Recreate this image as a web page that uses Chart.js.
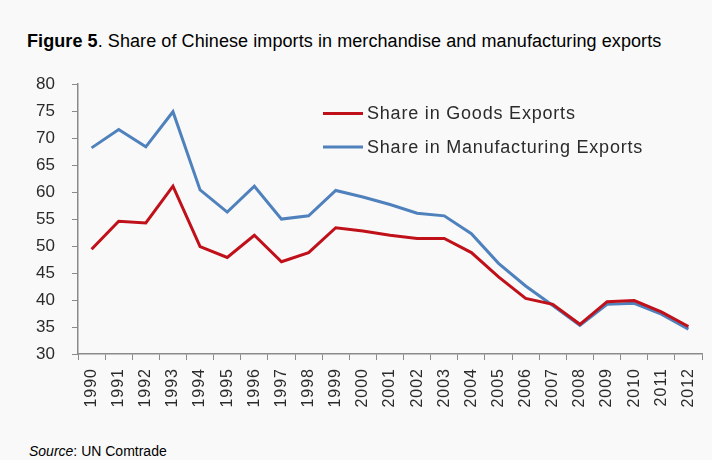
<!DOCTYPE html>
<html>
<head>
<meta charset="utf-8">
<script src="https://cdn.jsdelivr.net/npm/chart.js@4.4.1/dist/chart.umd.min.js"></script>
<style>
  body { margin: 0; background: #f9f9f9; font-family: "Liberation Sans", Arial, sans-serif; color: #000; }
  #wrap { position: relative; width: 712px; height: 460px; overflow: hidden; }
  #title { position: absolute; left: 27px; top: 31px; font-size: 18px; letter-spacing: 0.08px; white-space: nowrap; }
  #source { position: absolute; left: 29px; top: 443px; font-size: 14px; white-space: nowrap; }
  #box { position: absolute; left: 0; top: 57px; width: 712px; height: 375px; }
</style>
</head>
<body>
<div id="wrap">
  <div id="title"><b>Figure 5</b>. Share of Chinese imports in merchandise and manufacturing exports</div>
  <div id="box"><canvas id="chart"></canvas></div>
  <div id="source"><i>Source</i>: UN Comtrade</div>
</div>
<script>
// years on the category axis
const years = ['1990', '1991', '1992', '1993', '1994', '1995', '1996', '1997', '1998', '1999', '2000',
  '2001', '2002', '2003', '2004', '2005', '2006', '2007', '2008', '2009', '2010', '2011', '2012'];

// share of Chinese imports, %
const goodsShare = [49.4, 54.6, 54.3, 61.1, 49.9, 47.9, 52.0, 47.1, 48.8, 53.4, 52.8,
  52.0, 51.4, 51.4, 48.8, 44.3, 40.3, 39.2, 35.5, 39.7, 39.9, 37.8, 35.1];
const manufShare = [68.2, 71.6, 68.4, 74.9, 60.4, 56.3, 61.1, 55.0, 55.6, 60.3, 59.1,
  57.7, 56.1, 55.6, 52.3, 46.8, 42.6, 39.0, 35.3, 39.2, 39.4, 37.4, 34.6];

const yTicks = [30, 35, 40, 45, 50, 55, 60, 65, 70, 75, 80];

const RED = '#c0101a';
const BLUE = '#4f81bd';
const TEXT = '#2b2b2b';
const AXIS = '#8a8a8a';

// legend drawn inside the plot, near the top
const insideLegend = {
  id: 'insideLegend',
  afterDraw(chart) {
    const ctx = chart.ctx;
    const items = chart.data.datasets;
    ctx.save();
    ctx.font = '18px "Liberation Sans", Arial, sans-serif';
    ctx.letterSpacing = '0.8px';
    ctx.fillStyle = TEXT;
    ctx.textBaseline = 'middle';
    items.forEach((ds, i) => {
      const y = 56.5 + i * 33.5;
      ctx.strokeStyle = ds.borderColor;
      ctx.lineWidth = 3;
      ctx.beginPath();
      ctx.moveTo(323, y);
      ctx.lineTo(363, y);
      ctx.stroke();
      ctx.fillText(ds.label, 367, y + 1);
    });
    ctx.restore();
  }
};

// rotated year labels under the x axis
const yearLabels = {
  id: 'yearLabels',
  afterDraw(chart) {
    const ctx = chart.ctx;
    const xs = chart.scales.x;
    ctx.save();
    ctx.font = '16px "Liberation Sans", Arial, sans-serif';
    ctx.letterSpacing = '1px';
    ctx.fillStyle = TEXT;
    ctx.textAlign = 'right';
    ctx.textBaseline = 'middle';
    years.forEach((yr, i) => {
      const x = xs.getPixelForValue(i);
      ctx.save();
      ctx.translate(x, xs.top + 14);
      ctx.rotate(-Math.PI / 2);
      ctx.fillText(yr, 0, 0);
      ctx.restore();
    });
    ctx.restore();
  }
};

new Chart(document.getElementById('chart'), {
  type: 'line',
  data: {
    labels: years,
    datasets: [
      { label: 'Share in Goods Exports', data: goodsShare, borderColor: RED, borderWidth: 3,
        pointRadius: 0, tension: 0, order: 1 },
      { label: 'Share in Manufacturing Exports', data: manufShare, borderColor: BLUE, borderWidth: 3,
        pointRadius: 0, tension: 0, order: 2 }
    ]
  },
  options: {
    responsive: true,
    maintainAspectRatio: false,
    animation: false,
    layout: { padding: { top: 20, right: 10, left: 0, bottom: 0 } },
    plugins: { legend: { display: false }, tooltip: { enabled: false } },
    scales: {
      x: {
        offset: true,
        grid: { offset: true, drawOnChartArea: false, color: AXIS, tickLength: 6, tickColor: AXIS },
        border: { color: AXIS, width: 1.5 },
        ticks: { display: false },
        afterFit(scale) { scale.height = 78; }
      },
      y: {
        min: 30, max: 80,
        afterBuildTicks(scale) { scale.ticks = yTicks.map(v => ({ value: v })); },
        grid: { drawOnChartArea: false, color: AXIS, tickLength: 6, tickColor: AXIS },
        border: { color: AXIS, width: 1.5 },
        ticks: {
          color: TEXT, padding: 17,
          font: { family: '"Liberation Sans", Arial, sans-serif', size: 17 }
        },
        afterFit(scale) { scale.width = 78; }
      }
    }
  },
  plugins: [insideLegend, yearLabels]
});
</script>
</body>
</html>
